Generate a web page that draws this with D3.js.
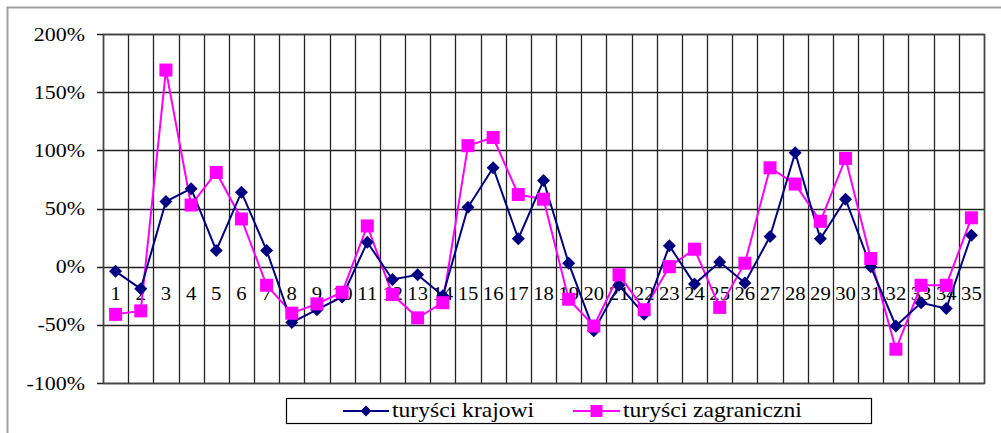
<!DOCTYPE html>
<html><head><meta charset="utf-8">
<script src="https://cdn.jsdelivr.net/npm/d3@7"></script>
<style>body{margin:0;background:#fff}svg{display:block}</style>
</head><body>
<svg id="c" width="1001" height="433"></svg>
<script>
const categories = d3.range(1, 36).map(String);
const yTicks = [-100, -50, 0, 50, 100, 150, 200];
const krajowi = [-4, -19, 56, 67, 14, 64, 14, -48, -37, -26, 21, -11, -7, -25, 51, 85, 24, 74, 3, -55, -16, -41, 18, -15, 4, -14, 26, 98, 24, 58, 0, -51, -31, -36, 27];
const zagraniczni = [-41, -38, 169, 53, 81, 41, -16, -40, -32, -22, 35, -24, -44, -31, 104, 111, 62, 58, -28, -51, -7, -37, 0, 15, -35, 3, 85, 71, 39, 93, 7, -71, -16, -16, 42];
const seriesNames = ["turyści krajowi", "turyści zagraniczni"];

const svg = d3.select("#c");
const L = 103, R = 984, T = 34, B = 383;
const x = d3.scaleBand().domain(categories).range([L, R]);
const y = d3.scaleLinear().domain([-100, 200]).range([B, T]);
const FONT = '"Liberation Serif"';

function txt(parent, px, py, s, anchor, size, sx) {
  return parent.append("text")
    .attr("transform", `translate(${px},${py}) scale(${sx},1)`)
    .attr("x", 0).attr("y", 0)
    .attr("text-anchor", anchor)
    .attr("font-size", size).attr("fill", "#000")
    .style("font-family", FONT)
    .text(s);
}

// outer frame (left & top)
svg.append("path").attr("d", "M7.5,433 L7.5,7.5 L1001,7.5").attr("fill", "none").attr("stroke", "#a0a0a0").attr("stroke-width", 2);

const g = svg.append("g");
g.selectAll(".hg").data(yTicks).enter().append("line")
  .attr("x1", L - 6).attr("x2", R).attr("y1", d => Math.round(y(d)) + 0.5).attr("y2", d => Math.round(y(d)) + 0.5)
  .attr("stroke", "#222").attr("stroke-width", 1.3);
const bounds = categories.map(c => x(c)).concat([R]);
g.selectAll(".vg").data(bounds).enter().append("line")
  .attr("x1", d => Math.round(d) + 0.5).attr("x2", d => Math.round(d) + 0.5).attr("y1", T).attr("y2", B)
  .attr("stroke", "#222").attr("stroke-width", 1.3);
g.append("rect").attr("x", L + 0.5).attr("y", T + 0.5).attr("width", R - L).attr("height", B - T)
  .attr("fill", "none").attr("stroke", "#444").attr("stroke-width", 1.5);

yTicks.forEach(d => txt(g, 85, y(d) + 6.5, d + "%", "end", 18, 1.22));
categories.forEach(c => txt(g, x(c) + x.bandwidth() / 2, y(0) + 33, c, "middle", 18, 1.15));

const cx = i => x(categories[i]) + x.bandwidth() / 2;
const line = d3.line().x((d, i) => cx(i)).y(d => y(d));

svg.append("path").datum(zagraniczni).attr("d", line).attr("fill", "none").attr("stroke", "#ff00ff").attr("stroke-width", 2);
svg.append("path").datum(krajowi).attr("d", line).attr("fill", "none").attr("stroke", "#000080").attr("stroke-width", 2);

const diamond = (px, py, s) => `M${px},${py - s} L${px + s},${py} L${px},${py + s} L${px - s},${py} Z`;
svg.selectAll(".dm").data(krajowi).enter().append("path")
  .attr("d", (d, i) => diamond(cx(i), y(d), 6.5)).attr("fill", "#000080");
svg.selectAll(".sq").data(zagraniczni).enter().append("rect")
  .attr("x", (d, i) => cx(i) - 6.5).attr("y", d => y(d) - 6.5).attr("width", 13).attr("height", 13)
  .attr("fill", "#ff00ff");

const lg = svg.append("g");
lg.append("rect").attr("x", 286.5).attr("y", 398.5).attr("width", 585).attr("height", 25)
  .attr("fill", "#fff").attr("stroke", "#000").attr("stroke-width", 1.2);
const legendItems = [
  {name: seriesNames[0], x1: 343, x2: 389, color: "#000080", shape: "d"},
  {name: seriesNames[1], x1: 573, x2: 620, color: "#ff00ff", shape: "s"}
];
legendItems.forEach(it => {
  const ly = 411;
  lg.append("line").attr("x1", it.x1).attr("x2", it.x2).attr("y1", ly).attr("y2", ly).attr("stroke", it.color).attr("stroke-width", 2);
  const mx = (it.x1 + it.x2) / 2;
  if (it.shape === "d") lg.append("path").attr("d", diamond(mx, ly, 5.5)).attr("fill", it.color);
  else lg.append("rect").attr("x", mx - 6).attr("y", ly - 6).attr("width", 12).attr("height", 12).attr("fill", it.color);
  txt(lg, it.x2 + 3, 417, it.name, "start", 20, 1.18);
});
</script>
</body></html>
